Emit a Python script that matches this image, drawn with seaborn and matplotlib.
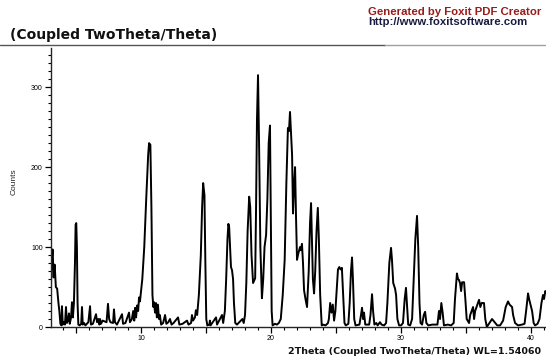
import matplotlib
matplotlib.use("Agg")
import matplotlib.pyplot as plt
from matplotlib.lines import Line2D
from matplotlib.ticker import MultipleLocator, FuncFormatter
import seaborn as sns
import pandas as pd

# Diffraction scan: 2Theta positions (degrees) and detector counts
two_theta = [
    3.08, 3.12, 3.2, 3.28, 3.36, 3.45, 3.55, 3.65, 3.72, 3.8,
    3.88, 3.92, 3.98, 4.05, 4.15, 4.23, 4.3, 4.38, 4.46, 4.52,
    4.62, 4.69, 4.76, 4.84, 4.92, 4.97, 5.02, 5.07, 5.12, 5.18,
    5.28, 5.4, 5.46, 5.52, 5.62, 5.72, 5.95, 6.08, 6.15, 6.3,
    6.54, 6.62, 6.72, 6.8, 6.85, 6.92, 7.05, 7.35, 7.46, 7.55,
    7.65, 7.85, 7.92, 8.0, 8.15, 8.3, 8.54, 8.62, 8.8, 9.08,
    9.15, 9.3, 9.4, 9.48, 9.55, 9.62, 9.7, 9.78, 9.85, 9.92,
    10.0, 10.1, 10.25, 10.4, 10.55, 10.62, 10.72, 10.8, 10.88, 10.95,
    11.0, 11.08, 11.15, 11.22, 11.3, 11.38, 11.45, 11.55, 11.7, 11.85,
    11.95, 12.1, 12.23, 12.35, 12.5, 12.85, 12.95, 13.2, 13.54, 13.65,
    13.85, 13.92, 14.0, 14.15, 14.22, 14.32, 14.45, 14.6, 14.7, 14.78,
    14.88, 14.95, 15.02, 15.1, 15.25, 15.3, 15.35, 15.77, 15.85, 16.23,
    16.32, 16.45, 16.55, 16.65, 16.72, 16.78, 16.85, 16.92, 17.0, 17.08,
    17.15, 17.25, 17.38, 17.8, 17.9, 18.0, 18.1, 18.2, 18.32, 18.4,
    18.5, 18.62, 18.7, 18.78, 18.85, 18.92, 19.0, 19.08, 19.18, 19.3,
    19.4, 19.5, 19.62, 19.72, 19.82, 19.92, 19.98, 20.05, 20.12, 20.3,
    20.45, 20.6, 20.75, 20.9, 21.05, 21.18, 21.3, 21.38, 21.46, 21.55,
    21.62, 21.69, 21.78, 21.85, 21.92, 22.0, 22.1, 22.23, 22.3, 22.38,
    22.46, 22.54, 22.65, 22.77, 22.9, 23.0, 23.08, 23.15, 23.22, 23.31,
    23.4, 23.5, 23.6, 23.68, 23.78, 23.9, 24.0, 24.2, 24.38, 24.45,
    24.55, 24.65, 24.75, 24.85, 24.95, 25.05, 25.15, 25.25, 25.35, 25.45,
    25.55, 25.65, 25.75, 25.95, 26.05, 26.15, 26.23, 26.3, 26.4, 26.5,
    26.8, 26.92, 27.0, 27.08, 27.15, 27.25, 27.55, 27.65, 27.77, 27.85,
    27.95, 28.1, 28.2, 28.38, 28.5, 28.7, 28.85, 28.95, 29.1, 29.23,
    29.3, 29.4, 29.54, 29.62, 29.72, 29.85, 30.0, 30.15, 30.28, 30.38,
    30.45, 30.55, 30.7, 30.85, 30.95, 31.1, 31.23, 31.32, 31.42, 31.5,
    31.62, 31.75, 31.85, 31.95, 32.1, 32.4, 32.8, 32.92, 33.0, 33.1,
    33.2, 33.3, 33.6, 33.85, 34.05, 34.15, 34.3, 34.38, 34.45, 34.54,
    34.62, 34.7, 34.85, 34.95, 35.05, 35.23, 35.32, 35.54, 35.62, 35.7,
    36.0, 36.1, 36.2, 36.38, 36.48, 36.6, 36.8, 37.0, 37.1, 37.2,
    37.4, 37.62, 37.85, 38.05, 38.23, 38.35, 38.54, 38.62, 38.77, 39.0,
    39.3, 39.5, 39.62, 39.77, 39.85, 40.0, 40.08, 40.2, 40.31, 40.5,
    40.65, 40.8, 40.92, 41.0, 41.1, 41.2,
]
counts = [
    55, 80, 97, 62, 78, 50, 48, 30, 20, 4,
    2, 26, 3, 6, 3, 25, 5, 8, 17, 4,
    12, 31, 12, 30, 80, 128, 130, 100, 30, 3,
    2, 4, 25, 3, 5, 2, 6, 26, 3, 4,
    16, 6, 10, 3, 10, 4, 8, 6, 29, 10,
    6, 5, 22, 6, 3, 8, 16, 4, 5, 18,
    6, 10, 20, 8, 24, 12, 27, 20, 37, 32,
    45, 60, 100, 160, 215, 230, 228, 150, 40, 25,
    31, 18, 30, 12, 28, 10, 15, 3, 5, 15,
    4, 6, 10, 3, 5, 12, 3, 4, 8, 3,
    5, 15, 8, 12, 21, 15, 40, 90, 150, 180,
    165, 80, 10, 2, 3, 8, 2, 12, 3, 15,
    5, 20, 60, 110, 129, 125, 100, 75, 71, 60,
    30, 5, 3, 10, 5, 15, 55, 120, 163, 150,
    90, 55, 58, 61, 150, 260, 315, 230, 100, 36,
    60, 100, 115, 160, 230, 252, 150, 20, 2, 4,
    3, 5, 10, 40, 84, 180, 249, 245, 269, 240,
    215, 142, 180, 200, 140, 84, 92, 100, 96, 104,
    80, 46, 35, 25, 70, 130, 155, 110, 60, 42,
    70, 120, 149, 110, 40, 2, 3, 2, 5, 10,
    30, 18, 28, 8, 20, 45, 72, 75, 72, 74,
    40, 5, 2, 4, 30, 70, 87, 60, 10, 2,
    3, 15, 24, 10, 18, 3, 3, 15, 41, 20,
    3, 5, 2, 6, 3, 2, 5, 30, 80, 99,
    85, 55, 48, 40, 10, 2, 2, 5, 35, 49,
    30, 3, 2, 10, 50, 110, 139, 100, 30, 5,
    3, 15, 19, 5, 2, 3, 3, 20, 10, 30,
    18, 2, 3, 2, 5, 35, 67, 60, 59, 55,
    45, 56, 56, 34, 10, 5, 15, 25, 10, 20,
    34, 25, 30, 30, 10, 0, 5, 10, 8, 6,
    2, 2, 8, 25, 32, 28, 25, 15, 5, 2,
    3, 4, 20, 42, 35, 25, 20, 5, 2, 4,
    10, 30, 40, 35, 45, 42,
]

y_ticks = [0, 100, 200, 300]
x_ticks = [10, 20, 30, 40]

scan = pd.DataFrame({"2Theta": two_theta, "Counts": counts})

sns.set_style("ticks")
plt.rcParams["font.family"] = ["Liberation Sans", "DejaVu Sans"]

fig = plt.figure(figsize=(5.46, 3.57), dpi=100)
ax = fig.add_axes([51 / 546, 30 / 357, 495 / 546, 279 / 357])

sns.lineplot(data=scan, x="2Theta", y="Counts", ax=ax, color="black",
             linewidth=1.4, sort=False, estimator=None)

ax.set_xlim(3.077, 41.15)
ax.set_ylim(0, 349)
sns.despine(ax=ax, top=True, right=True)
ax.spines["left"].set_linewidth(1.0)
ax.spines["bottom"].set_linewidth(1.0)

ax.xaxis.set_major_locator(MultipleLocator(5))
ax.xaxis.set_minor_locator(MultipleLocator(1))
ax.xaxis.set_major_formatter(
    FuncFormatter(lambda v, p: f"{int(round(v))}" if int(round(v)) in x_ticks else ""))
ax.yaxis.set_major_locator(MultipleLocator(100))
ax.yaxis.set_minor_locator(MultipleLocator(10))
ax.yaxis.set_major_formatter(
    FuncFormatter(lambda v, p: f"{int(round(v))}" if int(round(v)) in y_ticks else ""))

ax.tick_params(axis="both", which="major", length=4, width=0.9, labelsize=5,
               pad=2, colors="black")
ax.tick_params(axis="both", which="minor", length=2.5, width=0.8, colors="black")

ax.set_xlabel("")
ax.set_ylabel("Counts", fontsize=6, labelpad=18)
ax.yaxis.set_label_coords(-0.068, 0.52)

# Header rule and captions
wide = ["DejaVu Sans"]
fig.add_artist(Line2D([0, 385 / 546], [1 - 45 / 357] * 2, color="#555555", lw=1.0))
fig.add_artist(Line2D([385 / 546, 1], [1 - 45 / 357] * 2, color="#a0a0a0", lw=1.0))
fig.text(10 / 546, 1 - 35 / 357, "(Coupled TwoTheta/Theta)", fontsize=10,
         fontweight="bold", family=wide, va="center", ha="left", color="#111111")
fig.text(368 / 546, 1 - 12 / 357, "Generated by Foxit PDF Creator",
         fontsize=8.2, fontweight="bold", color="#9b1b1b",
         va="center", ha="left")
fig.text(368 / 546, 1 - 22 / 357, "http://www.foxitsoftware.com",
         fontsize=8.2, fontweight="bold", color="#1a1a40",
         va="center", ha="left")
fig.text(288 / 546, 1 - 351 / 357, "2Theta (Coupled TwoTheta/Theta) WL=1.54060",
         fontsize=6.8, fontweight="bold", family=wide, color="#111111",
         va="center", ha="left")

fig.savefig("out.png", dpi=100)
